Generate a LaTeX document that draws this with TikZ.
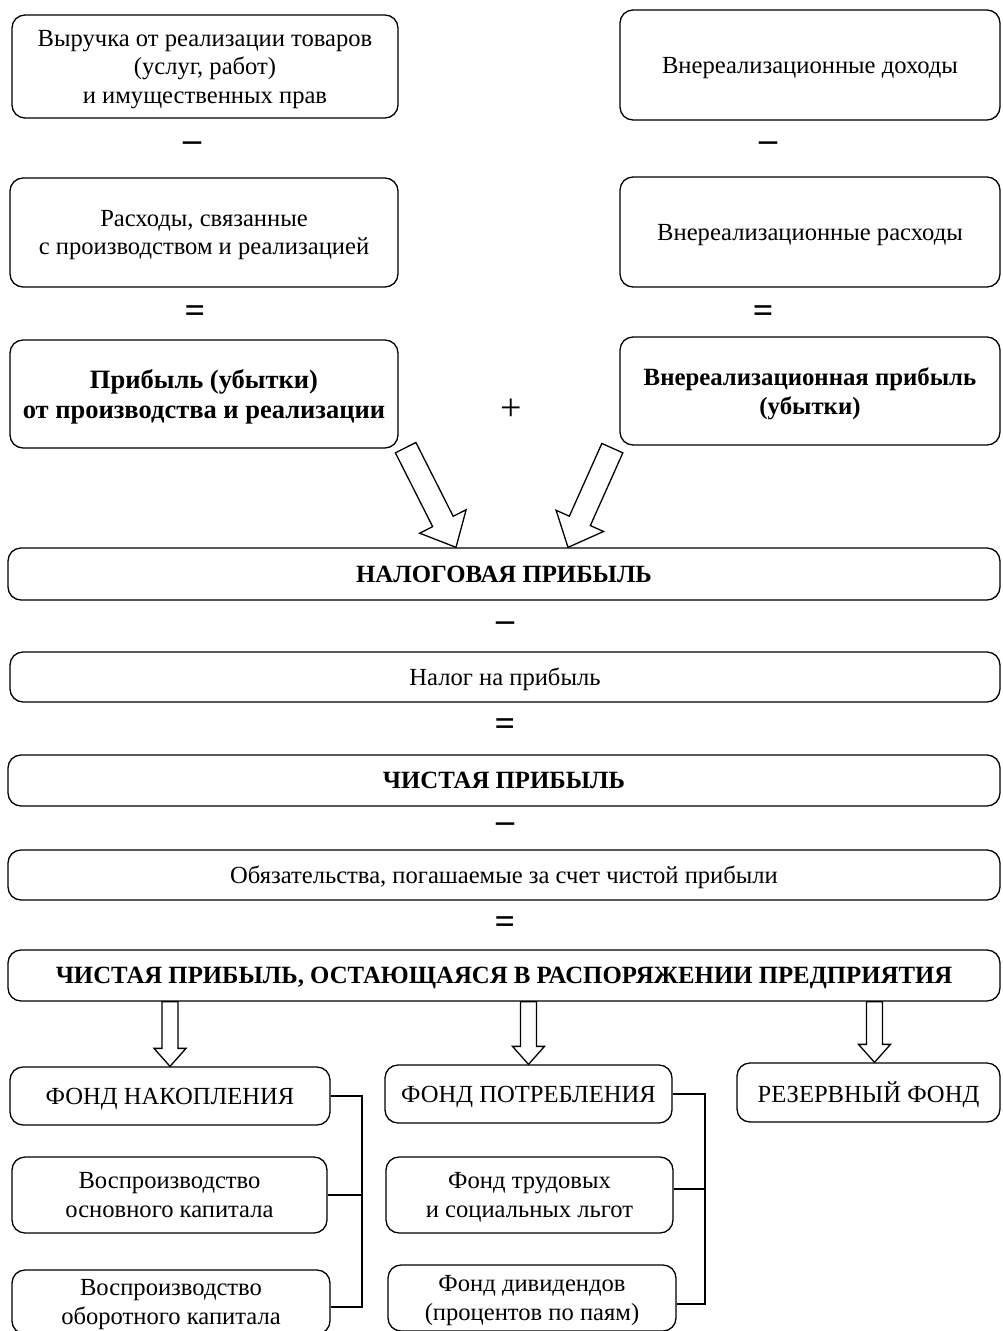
\documentclass[tikz,border=0pt]{standalone}
\usepackage{fontspec}
\setmainfont{Liberation Serif}
\usetikzlibrary{calc}
\tikzset{
  box/.style={draw, rounded corners=13pt, line width=1.3pt, align=center, inner sep=0pt, text depth=0pt},
  boldbox/.style={box, font=\fontsize{24.8}{29}\selectfont\bfseries},
  op/.style={inner sep=0pt, font=\fontsize{36}{36}\selectfont\bfseries},
  fat/.style={draw, line width=1.3pt, fill=white},
  link/.style={draw, line width=1.3pt}
}
\newcommand\fatarrow[5]{%
  \coordinate (hb) at ($(#2)!#5!(#1)$);
  \draw[fat] ($(#1)!#3!90:(#2)$) -- ($(hb)!#3!90:(#2)$) -- ($(hb)!#4!90:(#2)$) -- (#2)
    -- ($(hb)!#4!-90:(#2)$) -- ($(hb)!#3!-90:(#2)$) -- ($(#1)!#3!-90:(#2)$) -- cycle;}
\begin{document}
\begin{tikzpicture}[x=1pt,y=-1pt, font=\fontsize{24.6}{28.5}\selectfont]
\useasboundingbox (0,0) rectangle (1002,1331);
% top blocks
\node[box, minimum width=386, minimum height=103] (A) at (205,66.5) {Выручка от реализации товаров\\(услуг, работ)\\и имущественных прав};
\node[box, minimum width=380, minimum height=110] (B) at (810,65) {Внереализационные доходы};
\node[box, minimum width=388, minimum height=109] (C) at (204,232.5) {Расходы, связанные\\с производством и реализацией};
\node[box, minimum width=380, minimum height=110] (D) at (810,232) {Внереализационные расходы};
\node[boldbox, minimum width=388, minimum height=108, font=\fontsize{26.5}{30}\selectfont\bfseries] (E) at (204,394) {Прибыль (убытки)\\от производства и реализации};
\node[boldbox, minimum width=380, minimum height=108] (F) at (810,391) {Внереализационная прибыль\\(убытки)};
% operators
\node[op] (m1) at (192,147) {–};
\node[op] (m2) at (768,147) {–};
\node[op] (e1) at (195,314) {=};
\node[op] (e2) at (763,314) {=};
\node[inner sep=0pt, font=\fontsize{38}{38}\selectfont] (p1) at (511,410) {+};
% middle chain
\node[boldbox, minimum width=992, minimum height=52] (T) at (504,574) {НАЛОГОВАЯ ПРИБЫЛЬ};
\node[op] (m3) at (505,627) {–};
\node[box, minimum width=990, minimum height=50] (N) at (505,677) {Налог на прибыль};
\node[op] (e3) at (505,727) {=};
\node[boldbox, minimum width=992, minimum height=51] (CP) at (504,780.5) {ЧИСТАЯ ПРИБЫЛЬ};
\node[op] (m4) at (505,828) {–};
\node[box, minimum width=992, minimum height=50] (O) at (504,875) {Обязательства, погашаемые за счет чистой прибыли};
\node[op] (e4) at (505,925) {=};
\node[boldbox, minimum width=992, minimum height=51] (R) at (504,975.5) {ЧИСТАЯ ПРИБЫЛЬ, ОСТАЮЩАЯСЯ В РАСПОРЯЖЕНИИ ПРЕДПРИЯТИЯ};
% funds
\node[box, minimum width=320, minimum height=58] (FN) at (170,1096) {ФОНД НАКОПЛЕНИЯ};
\node[box, minimum width=315, minimum height=76] (V1) at (169.5,1195) {Воспроизводство\\основного капитала};
\node[box, minimum width=318, minimum height=64] (V2) at (171,1302) {Воспроизводство\\оборотного капитала};
\node[box, minimum width=287, minimum height=58] (FP) at (528.5,1094) {ФОНД ПОТРЕБЛЕНИЯ};
\node[box, minimum width=287, minimum height=76] (FT) at (529.5,1195) {Фонд трудовых\\и социальных льгот};
\node[box, minimum width=288, minimum height=66] (FD) at (532,1298) {Фонд дивидендов\\(процентов по паям)};
\node[box, minimum width=263, minimum height=59] (RF) at (868.5,1092.5) {РЕЗЕРВНЫЙ ФОНД};
% big arrows
\coordinate (s1) at ($(E.south east)+(7,-1)$);
\coordinate (t1) at ($(T.north)+(-48,0)$);
\coordinate (s2) at ($(F.south west)+(-7,2.5)$);
\coordinate (t2) at ($(T.north)+(64,0)$);
\fatarrow{s1}{t1}{11.5pt}{26pt}{29pt}
\fatarrow{s2}{t2}{11.5pt}{26pt}{29pt}
% small arrows
\coordinate (a1) at (R.south -| FN.north);
\coordinate (b1) at (FN.north);
\coordinate (a2) at (R.south -| FP.north);
\coordinate (b2) at (FP.north);
\coordinate (b3) at ($(RF.north)+(6,0)$);
\coordinate (a3) at (R.south -| b3);
\fatarrow{a1}{b1}{8pt}{16pt}{18pt}
\fatarrow{a2}{b2}{8pt}{16pt}{18pt}
\fatarrow{a3}{b3}{8pt}{16pt}{18pt}
% brackets
\coordinate (k1) at (362,0);
\coordinate (k2) at (705,0);
\draw[link] (FN.east) -- (FN.east -| k1) -- ($(V2.east -| k1)+(0,5)$) -- ($(V2.east)+(0,5)$);
\draw[link] (V1.east) -- (V1.east -| k1);
\draw[link] (FP.east) -- (FP.east -| k2) -- ($(FD.east -| k2)+(0,6)$) -- ($(FD.east)+(0,6)$);
\draw[link] ($(FT.east)+(0,-6)$) -- ($(FT.east -| k2)+(0,-6)$);
\end{tikzpicture}
\end{document}
